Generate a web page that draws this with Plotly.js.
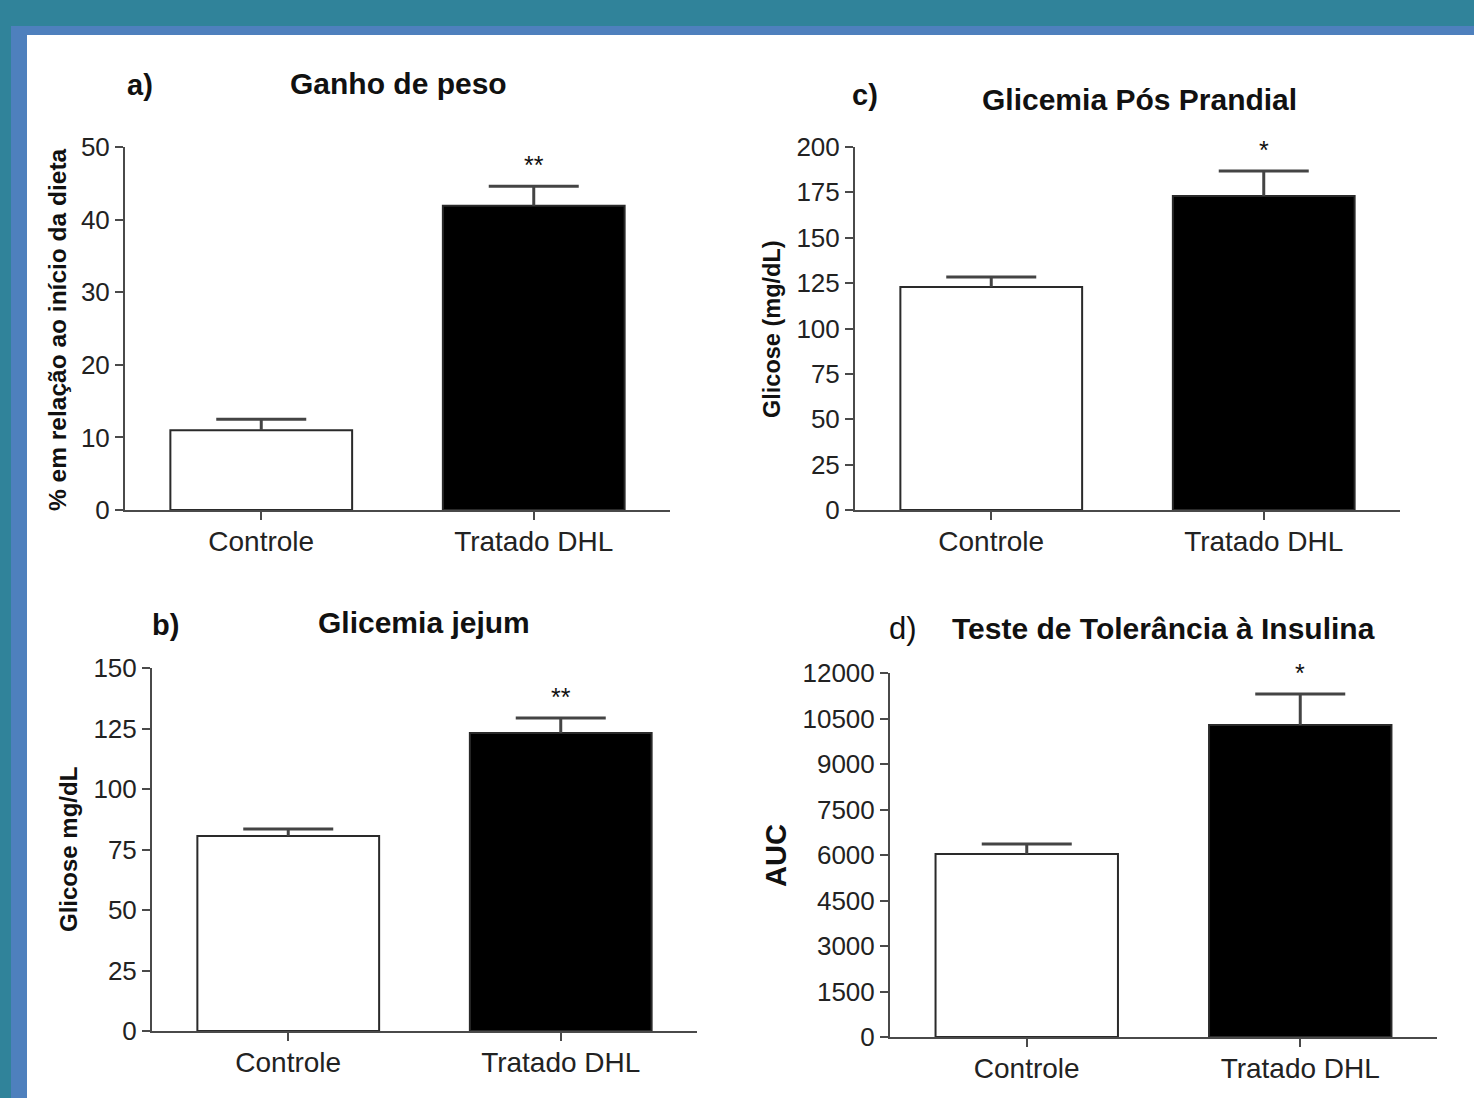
<!DOCTYPE html>
<html>
<head>
<meta charset="utf-8">
<script src="https://cdn.plot.ly/plotly-3.0.1.min.js"></script>
<style>html,body{margin:0;padding:0;background:#fff;}#chart{width:1474px;height:1098px;}</style>
</head>
<body>
<div id="chart"></div>
<script>
// ---- data ----
const categories = ["Controle", "Tratado DHL"];

const ganhoPeso = [11.0, 41.9];
const ganhoPesoErr = [1.5, 2.7];
const ganhoPesoSig = ["", "**"];

const glicemiaJejum = [80.6, 123.1];
const glicemiaJejumErr = [2.9, 6.2];
const glicemiaJejumSig = ["", "**"];

const glicemiaPos = [122.9, 173.0];
const glicemiaPosErr = [5.5, 13.8];
const glicemiaPosSig = ["", "*"];

const ittAuc = [6033, 10286];
const ittAucErr = [330, 1022];
const ittAucSig = ["", "*"];

const ticksA = [0, 10, 20, 30, 40, 50];
const ticksB = [0, 25, 50, 75, 100, 125, 150];
const ticksC = [0, 25, 50, 75, 100, 125, 150, 175, 200];
const ticksD = [0, 1500, 3000, 4500, 6000, 7500, 9000, 10500, 12000];

// ---- helpers ----
const W = 1474, H = 1098;
const px = v => v / W;
const py = v => 1 - v / H;
const FONT = "Liberation Sans, Arial, sans-serif";
const AX = "#4a4a4a";
const ERR = "#444444";

function barTraces(vals, errs, xa, ya) {
  // bar with vertical error stem only (width 0 -> no visible caps)
  const bar = {
    type: "bar", x: categories, y: vals, xaxis: xa, yaxis: ya,
    width: 0.667,
    marker: {color: ["#ffffff", "#000000"], line: {color: "#2a2a2a", width: 2}},
    error_y: {type: "data", symmetric: false, array: errs, arrayminus: [0, 0],
              color: ERR, thickness: 3, width: 0},
    showlegend: false, hoverinfo: "skip"
  };
  // invisible points at the top of each error bar, carrying only the cap
  const cap = {
    type: "scatter", mode: "markers", x: categories,
    y: vals.map((v, i) => v + errs[i]), xaxis: xa, yaxis: ya,
    marker: {size: 1, color: "rgba(0,0,0,0)"},
    error_y: {type: "data", symmetric: false, array: [0, 0], arrayminus: [0, 0],
              color: ERR, thickness: 3, width: 45},
    showlegend: false, hoverinfo: "skip"
  };
  return [bar, cap];
}

function xAxis(domain, anchor) {
  return {
    domain: domain, anchor: anchor, range: [-0.5, 1.5],
    showline: true, linecolor: AX, linewidth: 2,
    ticks: "outside", ticklen: 8, tickwidth: 2, tickcolor: AX,
    tickfont: {family: FONT, size: 28, color: "#222"},
    ticklabelstandoff: -3,
    showgrid: false, zeroline: false, fixedrange: true
  };
}
function yAxis(domain, anchor, range, ticks) {
  return {
    domain: domain, anchor: anchor, range: range,
    tickmode: "array", tickvals: ticks, ticktext: ticks.map(String),
    showline: true, linecolor: AX, linewidth: 2,
    ticks: "outside", ticklen: 8, tickwidth: 2, tickcolor: AX,
    tickfont: {family: FONT, size: 26, color: "#222"},
    showgrid: false, zeroline: false, fixedrange: true
  };
}

function sigAnn(vals, errs, sig, xa, ya) {
  return categories.map((c, i) => ({
    x: c, y: vals[i] + errs[i], xref: xa, yref: ya,
    text: sig[i], showarrow: false, yanchor: "bottom", yshift: 5,
    font: {family: FONT, size: 25, color: "#111"}
  })).filter(a => a.text);
}

function txt(text, x, y, size, bold, angle) {
  return {
    text: bold ? "<b>" + text + "</b>" : text,
    x: px(x), y: py(y), xref: "paper", yref: "paper",
    showarrow: false, xanchor: "center", yanchor: "middle",
    textangle: angle || 0,
    font: {family: FONT, size: size, color: "#111"}
  };
}

const data = [].concat(
  barTraces(ganhoPeso, ganhoPesoErr, "x", "y"),
  barTraces(glicemiaPos, glicemiaPosErr, "x2", "y2"),
  barTraces(glicemiaJejum, glicemiaJejumErr, "x3", "y3"),
  barTraces(ittAuc, ittAucErr, "x4", "y4")
);

const annotations = [].concat(
  sigAnn(ganhoPeso, ganhoPesoErr, ganhoPesoSig, "x", "y"),
  sigAnn(glicemiaPos, glicemiaPosErr, glicemiaPosSig, "x2", "y2"),
  sigAnn(glicemiaJejum, glicemiaJejumErr, glicemiaJejumSig, "x3", "y3"),
  sigAnn(ittAuc, ittAucErr, ittAucSig, "x4", "y4"),
  [
    txt("a)", 140, 85, 29, true),
    txt("Ganho de peso", 398, 83, 30, true),
    txt("c)", 865, 95, 29, true),
    txt("Glicemia Pós Prandial", 1139, 100, 30, true),
    txt("b)", 165, 625, 29, true),
    txt("Glicemia jejum", 424, 622, 30, true),
    txt("d)", 903, 628, 31, false),
    txt("Teste de Tolerância à Insulina", 1163, 628, 30, true),
    txt("% em relação ao início da dieta", 57, 330, 24.5, true, -90),
    txt("Glicose (mg/dL)", 772, 329, 23.5, true, -90),
    txt("Glicose mg/dL", 68, 850, 24, true, -90),
    txt("AUC", 776, 856, 29, true, -90)
  ]
);

const layout = {
  width: W, height: H,
  margin: {l: 0, r: 0, t: 0, b: 0},
  paper_bgcolor: "#ffffff", plot_bgcolor: "rgba(0,0,0,0)",
  font: {family: FONT},
  xaxis: xAxis([px(125), px(670)], "y"),
  yaxis: yAxis([py(510), py(147)], "x", [0, 50], ticksA),
  xaxis2: xAxis([px(855), px(1400)], "y2"),
  yaxis2: yAxis([py(510), py(147)], "x2", [0, 200], ticksC),
  xaxis3: xAxis([px(152), px(697)], "y3"),
  yaxis3: yAxis([py(1031), py(668)], "x3", [0, 150], ticksB),
  xaxis4: xAxis([px(890), px(1437)], "y4"),
  yaxis4: yAxis([py(1037), py(673)], "x4", [0, 12000], ticksD),
  annotations: annotations,
  shapes: [
    {type: "rect", xref: "paper", yref: "paper", layer: "below", x0: 0, x1: 1, y0: py(26), y1: 1, fillcolor: "#30839a", line: {width: 0}},
    {type: "rect", xref: "paper", yref: "paper", layer: "below", x0: 0, x1: px(11), y0: 0, y1: 1, fillcolor: "#30839a", line: {width: 0}},
    {type: "rect", xref: "paper", yref: "paper", layer: "below", x0: px(11), x1: 1, y0: py(35), y1: py(26), fillcolor: "#4e80bd", line: {width: 0}},
    {type: "rect", xref: "paper", yref: "paper", layer: "below", x0: px(11), x1: px(27), y0: 0, y1: py(26), fillcolor: "#4e80bd", line: {width: 0}}
  ]
};

Plotly.newPlot("chart", data, layout, {displayModeBar: false, staticPlot: true});
</script>
</body>
</html>
